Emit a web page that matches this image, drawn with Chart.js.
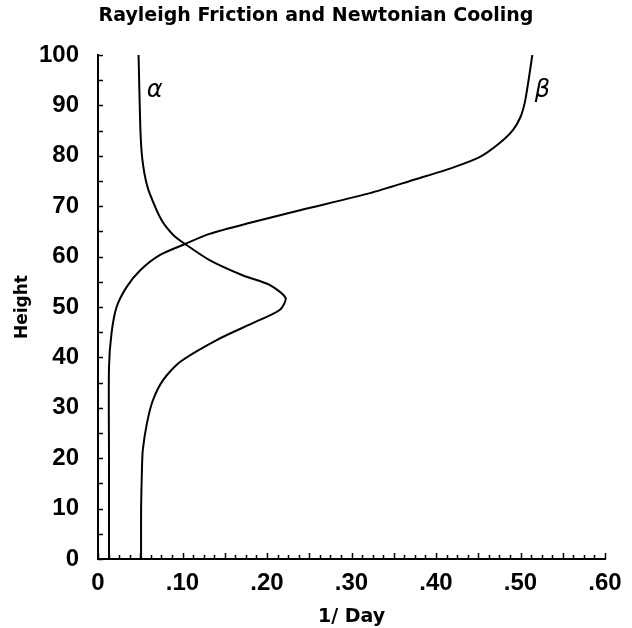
<!DOCTYPE html>
<html>
<head>
<meta charset="utf-8">
<script src="https://cdn.jsdelivr.net/npm/chart.js@4/dist/chart.umd.min.js"></script>
<style>
  html, body { margin: 0; padding: 0; background: #fff; }
  canvas { display: block; }
</style>
</head>
<body>
<canvas id="coolingChart" width="632" height="628"></canvas>
<script>
// Rayleigh friction (alpha) and Newtonian cooling (beta) profiles, 1/day vs height
const alphaHeight = [0, 10, 17.7, 21.6, 27, 31.5, 35.5, 39.1, 43.5, 46.8, 49.4, 51.8, 54.4, 56.3, 59.3, 62.5, 64.3, 67.3, 72.6, 75.2, 78, 81, 86, 100];
const alphaRate   = [0.051, 0.051, 0.052, 0.053, 0.058, 0.065, 0.077, 0.097, 0.141, 0.183, 0.215, 0.222, 0.203, 0.171, 0.132, 0.103, 0.089, 0.075, 0.061, 0.0565, 0.0535, 0.0515, 0.050, 0.048];

const betaHeight = [0, 20, 38, 44.8, 50, 54, 57.3, 60.3, 62.5, 64.5, 66.7, 69.2, 72.6, 75.2, 77.2, 79.8, 82.5, 85.1, 87.7, 90.5, 94.4, 100];
const betaRate   = [0.013, 0.013, 0.013, 0.016, 0.022, 0.034, 0.050, 0.073, 0.103, 0.132, 0.180, 0.239, 0.322, 0.373, 0.412, 0.452, 0.475, 0.491, 0.500, 0.505, 0.509, 0.514];

const curveNames  = ['α', 'β'];
const curveLabelX = [0.067, 0.526];
const curveLabelY = [93, 93];

const xTickValues = [0, 0.1, 0.2, 0.3, 0.4, 0.5, 0.6];
const xTickLabels = ['0', '.10', '.20', '.30', '.40', '.50', '.60'];
const yTickValues = [0, 10, 20, 30, 40, 50, 60, 70, 80, 90, 100];

const toPoints = (hs, vs) => hs.map((h, i) => ({ x: vs[i], y: h }));

const near = (a, b) => Math.abs(a - b) < 1e-6;

// tick marks point into the plot, like the original plotter output
const inwardTicks = {
  id: 'inwardTicks',
  afterDatasetsDraw(chart) {
    const { ctx, chartArea, scales } = chart;
    ctx.save();
    ctx.strokeStyle = '#000';
    ctx.lineWidth = 1.5;
    ctx.beginPath();
    scales.x.ticks.forEach(t => {
      const px = Math.round(scales.x.getPixelForValue(t.value)) + 0.5;
      const major = near(t.value / 0.05, Math.round(t.value / 0.05));
      ctx.moveTo(px, chartArea.bottom);
      ctx.lineTo(px, chartArea.bottom - (major ? 6 : 4));
    });
    scales.y.ticks.forEach(t => {
      const py = Math.round(scales.y.getPixelForValue(t.value)) + 0.5;
      ctx.moveTo(chartArea.left, py);
      ctx.lineTo(chartArea.left + 5, py);
    });
    ctx.stroke();

    ctx.fillStyle = '#000';
    ctx.font = 'italic 24px "DejaVu Sans"';
    ctx.textAlign = 'center';
    ctx.textBaseline = 'middle';
    curveNames.forEach((name, i) => {
      ctx.fillText(name, scales.x.getPixelForValue(curveLabelX[i]), scales.y.getPixelForValue(curveLabelY[i]));
    });
    ctx.restore();
  }
};

const lineStyle = {
  showLine: true,
  borderColor: '#000',
  borderWidth: 2,
  pointRadius: 0,
  tension: 0.25,
  fill: false
};

const tickFont = { family: '"Liberation Sans"', size: 24, weight: 'bold' };

new Chart(document.getElementById('coolingChart'), {
  type: 'scatter',
  data: {
    datasets: [
      Object.assign({ label: 'α', data: toPoints(alphaHeight, alphaRate) }, lineStyle),
      Object.assign({ label: 'β', data: toPoints(betaHeight, betaRate) }, lineStyle)
    ]
  },
  options: {
    responsive: false,
    animation: false,
    layout: { padding: 0 },
    plugins: {
      legend: { display: false },
      tooltip: { enabled: false },
      title: {
        display: true,
        text: 'Rayleigh Friction and Newtonian Cooling',
        color: '#000',
        font: { family: '"DejaVu Sans"', size: 19, weight: 'bold' },
        padding: { top: 5, bottom: 27.2 }
      }
    },
    scales: {
      x: {
        type: 'linear',
        min: 0,
        max: 0.6,
        afterBuildTicks: scale => {
          const ticks = [];
          for (let i = 0; i <= 48; i++) ticks.push({ value: i * 0.0125 });
          scale.ticks = ticks;
        },
        afterFit: scale => {
          scale.height = 69;
          scale.paddingRight = 27;
        },
        grid: { display: true, drawOnChartArea: false, drawTicks: false },
        border: { display: true, color: '#000', width: 2 },
        ticks: {
          autoSkip: false,
          maxRotation: 0,
          padding: 10,
          color: '#000',
          font: tickFont,
          callback: value => {
            const i = xTickValues.findIndex(v => near(v, value));
            return i >= 0 ? xTickLabels[i] : '';
          }
        },
        title: {
          display: true,
          text: '1/ Day',
          color: '#000',
          font: { family: '"DejaVu Sans"', size: 19, weight: 'bold' },
          padding: { top: 0, bottom: 0 }
        }
      },
      y: {
        type: 'linear',
        min: 0,
        max: 100,
        afterBuildTicks: scale => {
          const ticks = [];
          for (let v = 0; v <= 100; v += 5) ticks.push({ value: v });
          scale.ticks = ticks;
        },
        afterFit: scale => { scale.width = 98; },
        grid: { display: true, drawOnChartArea: false, drawTicks: false },
        border: { display: true, color: '#000', width: 2 },
        ticks: {
          autoSkip: false,
          padding: 19,
          color: '#000',
          font: tickFont,
          callback: value => yTickValues.includes(value) ? String(value) : ''
        },
        title: {
          display: true,
          text: 'Height',
          color: '#000',
          font: { family: '"DejaVu Sans"', size: 17, weight: 'bold' },
          padding: { top: 12, bottom: 0 }
        }
      }
    }
  },
  plugins: [inwardTicks]
});
</script>
</body>
</html>
